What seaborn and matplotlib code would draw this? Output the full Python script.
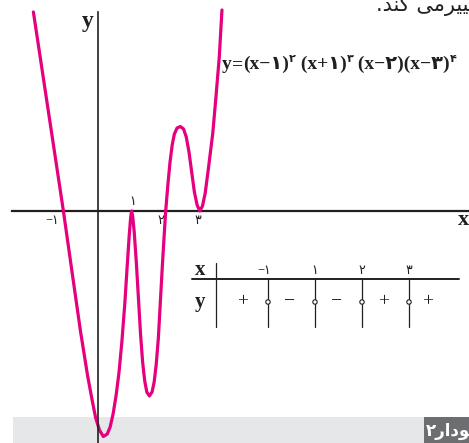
import matplotlib
matplotlib.use("Agg")
import matplotlib.pyplot as plt
from matplotlib.patches import Rectangle, Circle
import seaborn as sns

# Sketch of y = (x-1)^2 (x+1)^3 (x-2) (x-3)^4 (shape only, not to scale)
curve_x = [-1.880, -1.440, -1.000, -0.763, -0.500, -0.289, -0.158, -0.053,
           0.057, 0.171, 0.286, 0.371, 0.457, 0.543, 0.629, 0.714, 0.800,
           0.871, 0.929, 0.971, 1.000, 1.031, 1.077, 1.138, 1.200, 1.262,
           1.323, 1.385, 1.446, 1.523, 1.600, 1.662, 1.723, 1.785, 1.846,
           1.908, 1.954, 2.000, 2.063, 2.127, 2.190, 2.254, 2.333, 2.429,
           2.524, 2.603, 2.683, 2.762, 2.841, 2.921, 3.000, 3.079, 3.159,
           3.254, 3.381, 3.476, 3.571, 3.650]
curve_y = [5.836, 2.918, 0.000, -1.672, -3.519, -4.839, -5.543, -6.070,
           -6.422, -6.613, -6.540, -6.334, -5.953, -5.425, -4.751, -3.842, -2.727,
           -1.613, -0.733, -0.205, 0.000, -0.147, -0.616, -1.496, -2.551, -3.607,
           -4.428, -4.985, -5.308, -5.425, -5.308, -5.015, -4.487, -3.724, -2.610,
           -1.496, -0.733, 0.000, 0.762, 1.437, 1.935, 2.258, 2.434, 2.478,
           2.405, 2.170, 1.730, 1.144, 0.557, 0.176, 0.000, 0.147, 0.528,
           1.261, 2.287, 3.372, 4.516, 5.894]

# axis tick labels (roots)
root_vals = [-1, 1, 2, 3]
root_labels = ["−۱", "۱", "۲", "۳"]
root_label_offsets = [(-11, -10), (1, 9), (-5, -10), (-2, -10)]

# sign table
table_labels = ["−۱", "۱", "۲", "۳"]
table_signs = ["+", "−", "−", "+", "+"]

# equation pieces: (text, is_superscript)
equation = [("y", False), ("=", False), ("(x−۱)", False), ("۲", True),
            (" (x+۱)", False), ("۳", True), (" (x−۲)(x−۳)", False), ("۴", True)]

# glyphs in visual (left-to-right) order
caption = "۲\uFEAD\uFE8D\uFEA9\uFEEE\uFEE4\uFEE7"
heading = ".\uFEAA\uFEE8\uFEDB \uFEF0\uFEE3\uFEAE\uFEF4\uFEF4\uFED0\uFE97"

sns.set_theme(style="white")
plt.rcParams["font.family"] = ["Liberation Serif", "DejaVu Sans"]

INK = "#231f20"
PINK = "#e5007d"

W, H = 469, 443
fig = plt.figure(figsize=(W / 100, H / 100), dpi=100)

# background layer in pixel units
bg = fig.add_axes([0, 0, 1, 1], zorder=0)
bg.set_xlim(0, W)
bg.set_ylim(H, 0)
bg.axis("off")

# plot layer in data units
ax = fig.add_axes([0, 0, 1, 1], zorder=1)
ax.patch.set_alpha(0)

sns.lineplot(x=curve_x, y=curve_y, sort=False, estimator=None, color=PINK,
             linewidth=2.3, ax=ax, zorder=3, solid_capstyle="round",
             solid_joinstyle="round")

ppu = 34.1
x0px, y0px = 97.5, 211
ax.set_xlim(-x0px / ppu, (W - x0px) / ppu)
ax.set_ylim(-(H - y0px) / ppu, y0px / ppu)
ax.set_xticks([])
ax.set_yticks([])
for s in ["top", "right"]:
    ax.spines[s].set_visible(False)
ax.spines["left"].set_position(("data", 0))
ax.spines["bottom"].set_position(("data", 0))
ax.spines["left"].set_bounds(-(H - y0px) / ppu, (y0px - 12) / ppu)
ax.spines["bottom"].set_bounds((12 - x0px) / ppu, (W - x0px) / ppu)
ax.spines["left"].set_color(INK)
ax.spines["bottom"].set_color(INK)
ax.spines["left"].set_linewidth(1.2)
ax.spines["bottom"].set_linewidth(1.6)
ax.spines["left"].set_zorder(4)
ax.set_xlabel("")
ax.set_ylabel("")

for v, lab, off in zip(root_vals, root_labels, root_label_offsets):
    ax.annotate(lab, xy=(v, 0), xytext=(off[0] * 0.72, off[1] * 0.72),
                textcoords="offset points", ha="center", va="center",
                fontsize=9, color=INK)

# axis names
bg.text(88, 21, "y", ha="center", va="center", fontsize=17,
        fontweight="bold", color=INK)
bg.text(463, 220, "x", ha="center", va="center", fontsize=16,
        fontweight="bold", color=INK)

# equation
first = bg.text(222, 69, equation[0][0], ha="left", va="baseline",
                fontsize=14, fontweight="bold", color=INK)
base = first
prev = first
for txt, sup in equation[1:]:
    if sup:
        t = bg.annotate(txt, xy=(1, 0.5), xycoords=prev, ha="left",
                        va="bottom", fontsize=8, fontweight="bold", color=INK)
    else:
        t = bg.annotate(txt, xy=(1, 0), xycoords=(prev, base), ha="left",
                        va="bottom", fontsize=14, fontweight="bold", color=INK)
        base = t
    prev = t

# sign table
bg.plot([192, 459], [279, 279], color=INK, lw=1.4)
bg.plot([216, 216], [263, 327], color=INK, lw=0.9)
bg.text(200, 270, "x", ha="center", va="center", fontsize=15,
        fontweight="bold", color=INK)
bg.text(200, 302, "y", ha="center", va="center", fontsize=15,
        fontweight="bold", color=INK)
col_x = [268 + 47 * i for i in range(len(table_labels))]
for cx, lab in zip(col_x, table_labels):
    bg.plot([cx, cx], [279, 327], color=INK, lw=0.9, zorder=2)
    bg.add_patch(Circle((cx, 302), 2.2, facecolor="white", edgecolor=INK,
                        lw=0.8, zorder=3))
    bg.text(cx - (4 if lab.startswith("−") else 0), 271, lab, ha="center",
            va="center", fontsize=9, color=INK)
sign_x = [col_x[0] - 25] + [(a + b) / 2 - 2 for a, b in zip(col_x[:-1], col_x[1:])] + [col_x[-1] + 19]
for sx, sg in zip(sign_x, table_signs):
    bg.text(sx, 302, sg, ha="center", va="center", fontsize=14, color=INK)

# caption strip
bg.add_patch(Rectangle((13, 417), W - 13, H - 417, facecolor="#e6e7e8",
                       edgecolor="none", zorder=0))
bg.add_patch(Rectangle((424, 417), W - 424, H - 417, facecolor="#6d6e71",
                       edgecolor="none", zorder=1))
bg.text(426, 431, caption, ha="left", va="center", fontsize=12,
        fontweight="bold", color="white", family=["DejaVu Sans"], zorder=2,
        clip_on=True)

# running text at the top edge
bg.text(376, 11, heading, ha="left", va="baseline", fontsize=15,
        color=INK, family=["DejaVu Sans"], clip_on=True)

fig.savefig("out.png", dpi=100)
